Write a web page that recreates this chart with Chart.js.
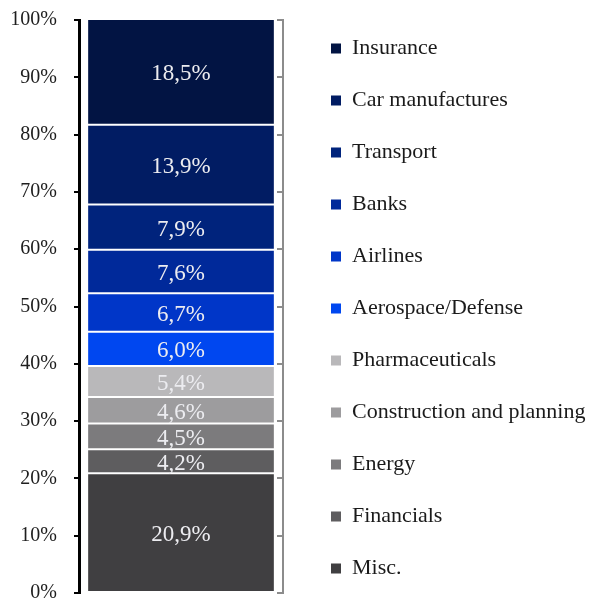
<!DOCTYPE html>
<html><head><meta charset="utf-8">
<script src="https://cdn.jsdelivr.net/npm/chart.js@4"></script>
<style>html,body{margin:0;padding:0;background:#fff}#wrap{width:591px;height:598px;position:relative}</style>
</head><body><div id="wrap"><canvas id="c"></canvas></div>
<script>
// Data (bottom of the stack first)
const sectors = ['Misc.', 'Financials', 'Energy', 'Construction and planning', 'Pharmaceuticals', 'Aerospace/Defense', 'Airlines', 'Banks', 'Transport', 'Car manufactures', 'Insurance'];
const shares = [20.9, 4.2, 4.5, 4.6, 5.4, 6.0, 6.7, 7.6, 7.9, 13.9, 18.5];
const colors = ['#403f41', '#5e5d5f', '#7c7b7d', '#9d9c9e', '#b9b8ba', '#0047f0', '#0036c8', '#00299a', '#00237c', '#011c63', '#021443'];
const tickLabels = ['0%', '10%', '20%', '30%', '40%', '50%', '60%', '70%', '80%', '90%', '100%'];

const SERIF = "'Liberation Serif', 'Times New Roman', serif";
const LEG_SIZE = 22;
const LEG_PAD = 18.5;
const LEG_LEFT = 312.5;
const AREA_RIGHT = 283;

const valueLabels = {
  id: 'valueLabels',
  afterDatasetsDraw(chart) {
    const c = chart.ctx;
    c.save();
    c.font = '23px ' + SERIF;
    c.fillStyle = '#ececf0';
    c.textAlign = 'center';
    c.textBaseline = 'middle';
    chart.data.datasets.forEach((ds, i) => {
      const el = chart.getDatasetMeta(i).data[0];
      const p = el.getProps(['x', 'y', 'base'], true);
      c.fillText(ds.data[0].toFixed(1).replace('.', ',') + '%', p.x, (p.y + p.base) / 2 + 2.5);
    });
    c.restore();
  }
};

// widen the legend box (it is capped by the layout) so its labels are not clipped
const legendBox = {
  id: 'legendBox',
  afterLayout(chart) {
    const L = chart.legend;
    if (!L) return;
    L.left = LEG_LEFT;
    L.right = chart.width;
    L.width = L.right - L.left;
  }
};

new Chart(document.getElementById('c'), {
  type: 'bar',
  data: {
    labels: [''],
    datasets: sectors.map((s, i) => ({
      label: s,
      data: [shares[i]],
      backgroundColor: colors[i],
      borderColor: '#ffffff',
      borderWidth: 1,
      borderSkipped: false,
      barPercentage: 0.92,
      categoryPercentage: 1
    }))
  },
  options: {
    responsive: true,
    maintainAspectRatio: false,
    animation: false,
    devicePixelRatio: 1,
    layout: { padding: 0 },
    scales: {
      x: { stacked: true, display: false },
      y: {
        stacked: true, min: 0, max: 100, position: 'left',
        ticks: { stepSize: 10, padding: 17, color: '#1e1e1e', font: { family: SERIF, size: 20 }, callback: (v, i) => tickLabels[i] },
        grid: { drawOnChartArea: false, drawTicks: true, tickLength: 5, color: '#000', lineWidth: 2 },
        border: { color: '#000', width: 3 },
        afterFit(s) { s.width = 79; s.paddingTop = 20; s.paddingBottom = 5; }
      },
      y2: {
        min: 0, max: 100, position: 'right',
        ticks: { display: false, stepSize: 10 },
        grid: { drawOnChartArea: false, drawTicks: true, tickLength: -6, color: '#8c8c8c', lineWidth: 2 },
        border: { color: '#8c8c8c', width: 2 },
        afterFit(s) {
          const lw = s.chart.legend ? s.chart.legend.width : 0;
          s.width = Math.max(0, s.chart.width - lw - AREA_RIGHT);
          s.paddingTop = 0; s.paddingBottom = 0;
        }
      }
    },
    plugins: {
      tooltip: { enabled: false },
      legend: {
        position: 'right',
        align: 'end',
        labels: {
          boxWidth: 10, boxHeight: 10, padding: LEG_PAD, color: '#1a1a1a',
          font: { family: SERIF, size: LEG_SIZE, lineHeight: (52 - LEG_PAD) + 'px' },
          generateLabels(chart) {
            const items = Chart.defaults.plugins.legend.labels.generateLabels(chart).reverse();
            return items.map((it, i, arr) => Object.assign({}, it, {
              text: i < arr.length - 1 ? [it.text] : it.text,
              lineWidth: 0,
              strokeStyle: 'rgba(0,0,0,0)'
            }));
          }
        }
      }
    }
  },
  plugins: [valueLabels, legendBox]
});
</script>
</body></html>
